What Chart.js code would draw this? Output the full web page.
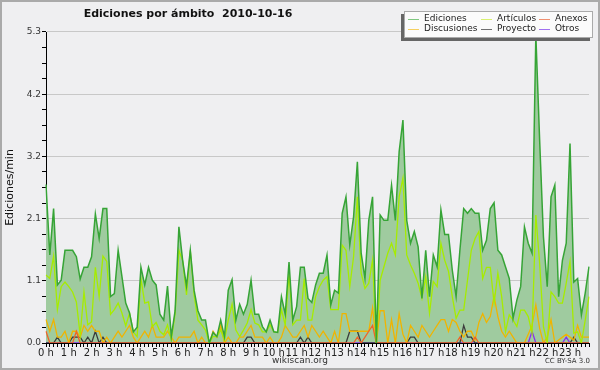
<!DOCTYPE html>
<html>
<head>
<meta charset="utf-8">
<script src="https://cdn.jsdelivr.net/npm/chart.js@4.4.1/dist/chart.umd.min.js"></script>
<style>
html,body{margin:0;padding:0;background:#efeff1;}
canvas{display:block;}
</style>
</head>
<body>
<canvas id="c" width="600" height="370"></canvas>
<script>
// ---- data ----
const chartTitle = 'Ediciones por ámbito  2010-10-16';
const yAxisTitle = 'Ediciones/min';
const hourLabels = ['0 h','1 h','2 h','3 h','4 h','5 h','6 h','7 h','8 h','9 h','10 h','11 h','12 h','13 h','14 h','15 h','16 h','17 h','18 h','19 h','20 h','21 h','22 h','23 h'];
const slotsPerHour = 6;
const yTickLabels = ['0.0','1.1','2.1','3.2','4.2','5.3'];
const yMax = 5.3;
const seriesNames = ['Ediciones','Artículos','Anexos','Discusiones','Proyecto','Otros'];

const ediciones = [
2.7,1.5,2.29,0.99,1.07,1.58,1.58,1.58,1.47,1.09,1.29,1.29,1.47,2.2,1.78,2.29,2.29,0.79,0.84,1.58,1.13,0.68,0.51,0.19,
0.27,1.29,0.99,1.29,1.07,0.99,0.49,0.39,0.97,0.11,0.55,1.98,1.4,0.97,1.58,0.9,0.55,0.39,0.39,0.0,0.18,0.11,0.39,0.11,
0.9,1.08,0.39,0.66,0.49,0.66,1.07,0.49,0.49,0.28,0.19,0.39,0.19,0.18,0.79,0.49,1.38,0.39,0.62,1.29,1.29,0.76,0.69,0.99,
1.19,1.19,1.5,0.65,0.9,0.85,2.21,2.49,1.67,2.15,3.09,1.53,1.1,2.09,2.49,0.0,2.18,2.09,2.09,2.69,2.09,3.26,3.8,2.09,
1.7,1.9,1.64,0.76,1.58,0.79,1.5,1.3,2.27,1.85,1.85,1.24,0.79,1.58,2.29,2.21,2.29,2.21,2.21,1.58,1.75,2.29,2.39,1.58,
1.5,1.3,1.1,0.42,0.73,0.96,1.98,1.7,1.53,5.25,3.46,1.81,0.96,2.49,2.69,0.79,1.41,1.7,3.4,1.04,1.1,0.48,0.85,1.3];

const articulos = [
1.16,1.1,1.48,0.57,0.96,1.04,0.96,0.87,0.7,0.14,0.87,0.31,0.36,1.29,0.79,1.48,1.39,0.49,0.57,0.68,0.51,0.29,0.51,0.19,
0.11,1.1,0.68,0.7,0.28,0.35,0.2,0.14,0.31,0.05,0.5,1.58,1.4,0.82,1.58,0.82,0.39,0.31,0.22,0.0,0.11,0.11,0.22,0.05,
0.39,0.66,0.22,0.11,0.22,0.34,0.57,0.34,0.31,0.19,0.19,0.31,0.19,0.18,0.57,0.31,1.19,0.31,0.39,0.39,1.1,0.39,0.39,0.79,
0.96,1.07,1.13,0.57,0.57,0.57,1.67,1.58,0.96,1.47,2.49,1.19,0.93,1.02,1.41,0.0,1.07,1.3,1.53,1.7,1.5,2.49,2.81,1.5,
1.33,1.19,1.02,0.76,1.13,0.51,1.05,0.96,1.7,1.41,1.22,0.79,0.42,0.56,0.56,1.07,1.58,1.78,1.9,1.1,1.29,1.29,0.68,1.19,
0.79,0.19,0.48,0.39,0.28,0.56,0.56,0.45,0.17,2.18,1.36,0.28,0.0,0.87,0.79,0.68,0.68,1.02,1.39,0.17,0.19,0.0,0.39,0.79];

const anexos = [
0.2,0,0,0,0,0,0,0,0.2,0,0,0,0,0,0,0,0,0,0,0,0,0,0,0,
0,0,0,0,0,0,0,0,0,0,0,0,0,0,0,0,0,0,0,0,0,0,0,0,
0,0,0,0,0,0,0,0,0,0,0,0,0,0,0,0,0,0,0,0,0,0,0,0,
0,0,0,0,0,0,0,0,0,0,0.1,0,0.1,0.2,0.3,0,0,0,0,0,0,0,0,0,
0,0,0,0,0,0,0,0,0,0,0,0,0,0.1,0,0,0,0.1,0,0,0,0,0,0,
0,0,0,0,0,0,0,0,0,0,0,0,0,0,0,0,0,0,0,0,0,0,0,0];

const discusiones = [
0.4,0.2,0.4,0.1,0.1,0.2,0,0.2,0.2,0.1,0.3,0.2,0.3,0.2,0.2,0,0.1,0,0.1,0.2,0.1,0.2,0.3,0.1,
0,0.1,0.2,0.1,0.3,0.1,0.1,0.1,0.2,0.1,0,0.1,0.1,0.1,0.1,0.2,0,0.1,0,0,0.2,0.1,0.3,0,
0.1,0,0,0.1,0.1,0.2,0.3,0.1,0.1,0.1,0,0.1,0,0,0.1,0.3,0.2,0.1,0.1,0.2,0.3,0.1,0.3,0.2,
0.1,0.2,0.1,0,0.2,0,0.5,0.5,0.2,0.2,0.2,0.2,0.2,0.2,0.6,0,0.55,0.55,0,0.4,0,0.5,0.15,0,
0.3,0.2,0.1,0.3,0.2,0.1,0.2,0.3,0.4,0.4,0.2,0.4,0.35,0.2,0.1,0.2,0.2,0.05,0.35,0.5,0.35,0.45,0.8,0.45,
0.2,0.1,0.2,0.1,0,0,0,0.15,0.3,0.65,0.25,0,0.1,0.4,0,0.05,0.1,0.15,0.1,0.05,0.3,0.1,0.1,0.1];

const proyecto = [
0,0,0,0.1,0,0,0,0.1,0.1,0.1,0,0.1,0,0.2,0,0.1,0,0,0,0,0,0,0,0,
0,0,0,0,0,0,0,0,0,0,0,0,0,0,0,0,0,0,0,0,0,0,0,0,
0,0,0,0,0,0.1,0.1,0,0,0,0,0,0,0,0,0,0,0,0,0.1,0,0.1,0,0,
0,0,0,0,0,0,0,0,0.2,0.2,0.2,0,0,0,0,0,0,0,0,0,0,0,0,0,
0.1,0.1,0,0,0,0,0,0,0,0,0,0,0,0,0.3,0.1,0.1,0,0,0,0,0,0,0,
0,0,0,0,0,0,0,0,0,0,0,0,0,0,0,0,0,0,0,0.1,0,0,0,0];

const otros = [
0,0,0,0,0,0,0,0,0,0,0,0,0,0,0,0,0,0,0,0,0,0,0,0,
0,0,0,0,0,0,0,0,0,0,0,0,0,0,0,0,0,0,0,0,0,0,0,0,
0,0,0,0,0,0,0,0,0,0,0,0,0,0,0,0,0,0,0,0,0,0,0,0,
0,0,0,0,0,0,0,0,0,0,0,0,0,0,0,0,0,0,0,0,0,0,0,0,
0,0,0,0,0,0,0,0,0,0,0,0,0,0,0,0,0,0,0,0,0,0,0,0,
0,0,0,0,0,0,0,0,0.2,0,0,0,0,0,0,0,0,0.1,0,0,0,0,0,0];

// ---- build ----
const slots = [];
hourLabels.forEach(h => { for (let k = 0; k < slotsPerHour; k++) slots.push(k === 0 ? h : ''); });
const yStep = yMax / (yTickLabels.length - 1) / 4;
const yTickValues = [];
for (let k = 0; k <= (yTickLabels.length - 1) * 4; k++) yTickValues.push(k * yStep);

const FONT = "'DejaVu Sans', 'Liberation Sans', sans-serif";
const colors = ['#36a436', '#a6ec00', '#f06428', '#f0b400', '#3c3c3c', '#8a2ef0'];
const legendColors = ['#80c880', '#d8f070', '#f09070', '#f5d060', '#707070', '#a070f0'];
const values = [ediciones, articulos, anexos, discusiones, proyecto, otros];

const datasets = values.map((v, k) => ({
  label: seriesNames[k],
  data: v,
  borderColor: colors[k],
  borderWidth: k === 0 ? 1.5 : 1.3,
  fill: k === 0 ? 'origin' : false,
  backgroundColor: k === 0 ? '#9fcb9f' : colors[k],
  pointRadius: 0,
  tension: 0
}));

const decor = {
  id: 'decor',
  beforeDraw(chart) {
    const c = chart.ctx;
    c.save();
    c.fillStyle = '#efeff1';
    c.fillRect(0, 0, chart.width, chart.height);
    c.restore();
  },
  afterDraw(chart) {
    const c = chart.ctx;
    c.save();
    // outer frame
    c.strokeStyle = '#aaaaaa';
    c.lineWidth = 2;
    c.strokeRect(1, 1, chart.width - 2, chart.height - 2);
    // title
    c.fillStyle = '#111';
    c.font = 'bold 11px ' + FONT;
    c.textAlign = 'center';
    c.textBaseline = 'middle';
    c.fillText(chartTitle, 188, 14);
    // footer
    c.fillStyle = '#333';
    c.font = '9px ' + FONT;
    c.fillText('wikiscan.org', 300, 361);
    c.font = '7px ' + FONT;
    c.textAlign = 'right';
    c.fillText('CC BY-SA 3.0', 590, 361);
    // legend
    const bx = 404, by = 11, bw = 189, bh = 27;
    c.fillStyle = '#666';
    c.fillRect(bx - 3, by + 3, bw, bh);
    c.fillStyle = '#fbfbfb';
    c.fillRect(bx, by, bw, bh);
    c.strokeStyle = '#aaa';
    c.lineWidth = 1;
    c.strokeRect(bx + 0.5, by + 0.5, bw - 1, bh - 1);
    const cols = [408, 481, 539];
    const rows = [19, 29];
    c.font = '9px ' + FONT;
    c.textAlign = 'left';
    chart.data.datasets.forEach((d, k) => {
      const x = cols[k % 3], y = rows[Math.floor(k / 3)];
      c.strokeStyle = legendColors[k];
      c.lineWidth = 1;
      c.beginPath();
      c.moveTo(x, y + 0.5);
      c.lineTo(x + 11, y + 0.5);
      c.stroke();
      c.fillStyle = '#222';
      c.fillText(d.label, x + 16, y);
    });
    c.restore();
  }
};

new Chart(document.getElementById('c'), {
  type: 'line',
  data: { labels: slots, datasets: datasets },
  plugins: [decor],
  options: {
    responsive: false,
    animation: false,
    devicePixelRatio: 1,
    layout: { padding: { left: 0, right: 11, top: 32, bottom: 0 } },
    plugins: {
      legend: { display: false },
      title: { display: false },
      tooltip: { enabled: false },
      filler: { drawTime: 'beforeDatasetsDraw' }
    },
    scales: {
      x: {
        type: 'category',
        offset: false,
        grid: { drawOnChartArea: false, drawTicks: true, tickLength: 4, color: '#000', tickColor: '#000' },
        border: { color: '#000', width: 1 },
        ticks: {
          autoSkip: false, maxRotation: 0, minRotation: 0, padding: 0,
          color: '#222', font: { family: FONT, size: 10 },
          callback: (v, i) => slots[i]
        },
        afterFit: s => { s.height = 27; }
      },
      y: {
        min: 0, max: yMax,
        afterBuildTicks: s => { s.ticks = yTickValues.map(v => ({ value: v })); },
        grid: {
          color: ctx => (ctx.index % 4 === 0 ? '#c8c8c8' : 'rgba(0,0,0,0)'),
          tickColor: '#000', drawTicks: true, tickLength: 4, lineWidth: 1
        },
        border: { color: '#000', width: 1 },
        ticks: {
          padding: 1, color: '#333', font: { family: FONT, size: 9 },
          callback: (v, i) => (i % 4 === 0 ? yTickLabels[i / 4] : '')
        },
        title: { display: true, text: yAxisTitle, color: '#111', font: { family: FONT, size: 11 }, padding: { top: 4, bottom: 0 } },
        afterFit: s => { s.width = 46; }
      }
    }
  }
});
</script>
</body>
</html>
